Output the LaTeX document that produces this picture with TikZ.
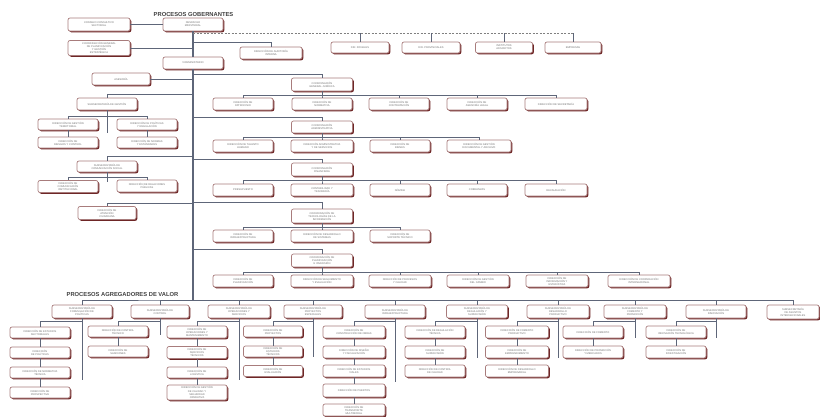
\documentclass[tikz,border=0pt]{standalone}
\usepackage{fontspec}
\setmainfont{Liberation Sans}
\usetikzlibrary{shadows}
\definecolor{ln}{HTML}{5E6679}
\definecolor{bd}{HTML}{A87C7C}
\definecolor{sh}{HTML}{6E2626}
\definecolor{tx}{HTML}{707070}
\tikzset{
 ob/.style={draw=bd, line width=0.7pt, fill=white, rounded corners=2pt, inner sep=0pt, align=center,
   font=\fontsize{2.6}{3.1}\selectfont, text=tx,
   drop shadow={shadow xshift=1.3pt, shadow yshift=-1.3pt, fill=sh, opacity=1}},
 cn/.style={draw=ln, line width=0.9pt},
 tk/.style={draw=ln, line width=1.7pt},
 dl/.style={draw=gray, line width=0.6pt, dash pattern=on 2pt off 1.5pt},
 ttl/.style={font=\fontsize{5.8}{7}\selectfont\bfseries, text=black!75, inner sep=0pt}
}
\newcommand\ob[6]{\node[ob, minimum width=#4pt, minimum height=#5pt] (#1) at (#2,#3) {#6};}
\begin{document}
\begin{tikzpicture}[x=1pt,y=-1pt]
\useasboundingbox (0,0) rectangle (820,416);
% titles
\node[ttl] (tg) at (193.5,14) {PROCESOS GOBERNANTES};
\node[ttl] (ta) at (122.5,294) {PROCESOS AGREGADORES DE VALOR};
% upper nodes
\ob{T}{193}{24.5}{60}{13}{DESPACHO\\MINISTERIAL}
\ob{L1}{99}{24.5}{62}{13}{CONSEJO CONSULTIVO\\SECTORIAL}
\ob{L2}{99}{48}{62}{15}{COORDINACIÓN GENERAL\\DE PLANIFICACIÓN\\Y GESTIÓN\\ESTRATÉGICA}
\ob{A}{271}{53}{62}{12}{DIRECCIÓN DE AUDITORÍA\\INTERNA}
\ob{D1}{360}{47.5}{58}{11}{DIR. ZONALES}
\ob{D2}{431}{47.5}{58}{11}{DIR. PROVINCIALES}
\ob{D3}{504}{47.5}{57}{11}{INSTITUTOS\\ADSCRITOS}
\ob{D4}{573}{47.5}{56}{11}{EMPRESAS}
\ob{V}{193}{63}{60}{12}{VICEMINISTERIO}
\ob{A2}{121}{79}{58}{12}{ASESORÍA}
% branch 1
\ob{C1}{322}{84.5}{61}{13}{COORDINACIÓN\\GENERAL JURÍDICA}
\ob{R11}{243}{104}{60}{12}{DIRECCIÓN DE\\PATROCINIO}
\ob{R12}{322}{104}{60}{12}{DIRECCIÓN DE\\NORMATIVA}
\ob{R13}{399}{104}{60}{12}{DIRECCIÓN DE\\CONTRATACIÓN}
\ob{R14}{477}{104}{60}{12}{DIRECCIÓN DE\\ASESORÍA LEGAL}
\ob{R15}{556}{104}{62}{12}{DIRECCIÓN DE SECRETARÍA}
% branch 2
\ob{C2}{322}{127}{61}{12}{COORDINACIÓN\\ADMINISTRATIVA}
\ob{R21}{243}{146}{60}{12}{DIRECCIÓN DE TALENTO\\HUMANO}
\ob{R22}{322}{146}{62}{12}{DIRECCIÓN ADMINISTRATIVA\\Y DE SERVICIOS}
\ob{R23}{400}{146}{60}{12}{DIRECCIÓN DE\\BIENES}
\ob{R24}{479}{146}{64}{12}{DIRECCIÓN DE GESTIÓN\\DOCUMENTAL Y ARCHIVO}
% branch 3
\ob{C3}{322}{169.5}{61}{13}{COORDINACIÓN\\FINANCIERA}
\ob{R31}{243}{190}{60}{12}{PRESUPUESTO}
\ob{R32}{322}{190}{62}{12}{CONTABILIDAD Y\\TESORERÍA}
\ob{R33}{400}{190}{60}{12}{NÓMINA}
\ob{R34}{477}{190}{60}{12}{COBRANZAS}
\ob{R35}{556}{190}{62}{12}{RECAUDACIÓN}
% branch 4
\ob{C4}{322}{216}{61}{14}{COORDINACIÓN DE\\TECNOLOGÍAS DE LA\\INFORMACIÓN}
\ob{R41}{243}{236}{60}{12}{DIRECCIÓN DE\\INFRAESTRUCTURA}
\ob{R42}{322}{236}{62}{12}{DIRECCIÓN DE DESARROLLO\\DE SISTEMAS}
\ob{R43}{400}{236}{60}{12}{DIRECCIÓN DE\\SOPORTE TÉCNICO}
% branch 5
\ob{C5}{322}{260.5}{61}{13}{COORDINACIÓN DE\\PLANIFICACIÓN\\E INVERSIÓN}
\ob{R51}{243}{281}{60}{12}{DIRECCIÓN DE\\PLANIFICACIÓN}
\ob{R52}{322}{281}{62}{12}{DIRECCIÓN DE SEGUIMIENTO\\Y EVALUACIÓN}
\ob{R53}{400}{281}{62}{12}{DIRECCIÓN DE PROCESOS\\Y CALIDAD}
\ob{R54}{478}{281}{62}{12}{DIRECCIÓN DE GESTIÓN\\DEL CAMBIO}
\ob{R55}{557}{281}{62}{12}{DIRECCIÓN DE\\INFORMACIÓN Y\\ESTADÍSTICA}
\ob{R56}{639}{281}{62}{12}{DIRECCIÓN DE COOPERACIÓN\\INTERNACIONAL}
% left branches
\ob{B1}{107}{104}{60}{12}{SUBSECRETARÍA DE GESTIÓN}
\ob{b11}{68}{124.5}{60}{11}{DIRECCIÓN DE GESTIÓN\\TERRITORIAL}
\ob{b12}{68}{142.5}{60}{11}{DIRECCIÓN DE\\RIESGOS Y CONTROL}
\ob{b13}{147}{124.5}{60}{11}{DIRECCIÓN DE POLÍTICAS\\Y REGULACIÓN}
\ob{b14}{147}{142.5}{60}{11}{DIRECCIÓN DE NORMAS\\Y ESTÁNDARES}
\ob{B2}{107}{166.5}{60}{11}{SUBSECRETARÍA DE\\COMUNICACIÓN SOCIAL}
\ob{b21}{68}{186.5}{60}{12}{DIRECCIÓN DE\\COMUNICACIÓN\\INSTITUCIONAL}
\ob{b22}{147}{186}{60}{12}{DIRECCIÓN DE RELACIONES\\PÚBLICAS}
\ob{B3}{107}{213}{58}{13}{DIRECCIÓN DE\\ATENCIÓN\\CIUDADANA}
% bottom parents
\ob{P1}{82}{311.5}{60}{13}{SUBSECRETARÍA DE\\FORMULACIÓN DE\\POLÍTICAS}
\ob{P2}{160}{311.5}{58}{13}{SUBSECRETARÍA DE\\CONTROL}
\ob{P3}{239}{311.5}{62}{13}{SUBSECRETARÍA DE\\OPERACIONES Y\\SERVICIOS}
\ob{P4}{313}{311.5}{58}{13}{SUBSECRETARÍA DE\\PROYECTOS\\ESPECIALES}
\ob{P5}{395}{311.5}{60}{13}{SUBSECRETARÍA DE\\INFRAESTRUCTURA}
\ob{P6}{477}{311.5}{61}{13}{SUBSECRETARÍA DE\\REGULACIÓN Y\\SUPERVISIÓN}
\ob{P7}{558}{311.5}{62}{13}{SUBSECRETARÍA DE\\DESARROLLO\\PRODUCTIVO}
\ob{P8}{635}{311.5}{62}{13}{SUBSECRETARÍA DE\\FOMENTO Y\\PROMOCIÓN}
\ob{P9}{716}{311.5}{60}{13}{SUBSECRETARÍA DE\\INNOVACIÓN}
\ob{P10}{793}{312}{52}{14}{SUBSECRETARÍA\\DE ASUNTOS\\INTERNACIONALES}
% bottom children
\ob{c11}{40}{332.5}{60}{11}{DIRECCIÓN DE ESTUDIOS\\SECTORIALES}
\ob{c12}{40}{352.5}{60}{11}{DIRECCIÓN\\DE POLÍTICAS}
\ob{c13}{40}{372.5}{60}{11}{DIRECCIÓN DE NORMATIVA\\TÉCNICA}
\ob{c14}{40}{392.5}{60}{11}{DIRECCIÓN DE\\PROSPECTIVA}
\ob{c21}{118}{331.5}{60}{11}{DIRECCIÓN DE CONTROL\\TÉCNICO}
\ob{c22}{118}{351.5}{60}{11}{DIRECCIÓN DE\\SANCIONES}
\ob{c31}{197}{332}{60}{12}{DIRECCIÓN DE\\OPERACIONES Y\\MANTENIMIENTO}
\ob{c32}{197}{352.5}{60}{12}{DIRECCIÓN DE\\SERVICIOS\\TÉCNICOS}
\ob{c33}{197}{372.5}{60}{11}{DIRECCIÓN DE\\LOGÍSTICA}
\ob{c34}{197}{392.5}{60}{15}{DIRECCIÓN DE GESTIÓN\\DE CALIDAD Y\\SEGURIDAD\\OPERATIVA}
\ob{c41}{273}{331.5}{59}{11}{DIRECCIÓN DE\\PROYECTOS}
\ob{c42}{273}{351.5}{59}{11}{DIRECCIÓN DE\\ESTUDIOS\\TÉCNICOS}
\ob{c43}{273}{371}{59}{11}{DIRECCIÓN DE\\EVALUACIÓN}
\ob{c51}{354}{332}{62}{12}{DIRECCIÓN DE\\CONSTRUCCIÓN DE OBRAS}
\ob{c52}{354}{352}{62}{12}{DIRECCIÓN DE DISEÑO\\Y FISCALIZACIÓN}
\ob{c53}{354}{371}{62}{12}{DIRECCIÓN DE ESTUDIOS\\VIALES}
\ob{c54}{354}{390.5}{62}{13}{DIRECCIÓN DE PUERTOS}
\ob{c55}{354}{410}{62}{12}{DIRECCIÓN DE\\TRANSPORTE\\MULTIMODAL}
\ob{c61}{435}{332}{60}{12}{DIRECCIÓN DE REGULACIÓN\\TÉCNICA}
\ob{c62}{435}{352}{60}{12}{DIRECCIÓN DE\\SUPERVISIÓN}
\ob{c63}{435}{371}{60}{12}{DIRECCIÓN DE CONTROL\\DE CALIDAD}
\ob{c71}{517}{332}{63}{12}{DIRECCIÓN DE FOMENTO\\PRODUCTIVO}
\ob{c72}{517}{352}{63}{12}{DIRECCIÓN DE\\EMPRENDIMIENTO}
\ob{c73}{517}{371}{63}{12}{DIRECCIÓN DE DESARROLLO\\EMPRESARIAL}
\ob{c81}{593}{332}{60}{12}{DIRECCIÓN DE FOMENTO}
\ob{c82}{593}{352}{60}{12}{DIRECCIÓN DE PROMOCIÓN\\Y MERCADOS}
\ob{c91}{676}{332}{60}{12}{DIRECCIÓN DE\\INNOVACIÓN TECNOLÓGICA}
\ob{c92}{676}{352}{60}{12}{DIRECCIÓN DE\\INVESTIGACIÓN}
% trunk coordinates
\coordinate (t33) at (193,33);
\coordinate (t42) at (193,42);
\coordinate (t74) at (193,74);
\coordinate (t94) at (193,94);
\coordinate (t117) at (193,117);
\coordinate (t156) at (193,156);
\coordinate (t159) at (193,159);
\coordinate (t202) at (193,202);
\coordinate (t203) at (193,203);
\coordinate (t249) at (193,249);
\coordinate (J) at (193,300);
% trunk
\draw[tk] (T.south) -- (V.north);
\draw[tk] (V.south) -- (J);
% upper connectors
\draw[cn] (L1.east) -- (T.west);
\draw[cn] (L2.east) -- (L2.east -| T.south);
\draw[cn] (t42) -| (A.north);
\draw[dl] (t33) -- (t33 -| D4.north);
\foreach \d in {D1,D2,D3,D4} \draw[cn] (\d.north) -- (\d.north |- t33);
\draw[cn] (A2.east) -- (A2.east -| V.south);
\draw[cn] (t74) -| (C1.north);
\draw[cn] (t117) -| (C2.north);
\draw[cn] (t159) -| (C3.north);
\draw[cn] (t202) -| (C4.north);
\draw[cn] (t249) -| (C5.north);
\foreach \c in {R11,R12,R13,R14,R15} \draw[cn] (C1.south) -- ++(0,4) -| (\c.north);
\foreach \c in {R21,R22,R23,R24} \draw[cn] (C2.south) -- ++(0,4) -| (\c.north);
\foreach \c in {R31,R32,R33,R34,R35} \draw[cn] (C3.south) -- ++(0,4.5) -| (\c.north);
\foreach \c in {R41,R42,R43} \draw[cn] (C4.south) -- ++(0,4) -| (\c.north);
\foreach \c in {R51,R52,R53,R54,R55,R56} \draw[cn] (C5.south) -- ++(0,5) -| (\c.north);
% left
\draw[cn] (t94) -| (B1.north);
\draw[cn] (t156) -| (B2.north);
\draw[cn] (t203) -| (B3.north);
\draw[cn] (B1.south) -- ++(0,23);
\foreach \c in {b11,b13} \draw[cn] (B1.south) -- ++(0,6) -| (\c.north);
\draw[cn] (b11.south) -- (b12.north);
\draw[cn] (b13.south) -- (b14.north);
\draw[cn] (B2.south) -- ++(0,10);
\foreach \c in {b21,b22} \draw[cn] (B2.south) -- ++(0,5) -| (\c.north);
% bottom bus
\draw[cn] (P1.north) |- (J) -| (P10.north);
\foreach \p in {P2,P3,P4,P5,P6,P7,P8,P9} \draw[cn] (J) -| (\p.north);
% bottom chains
\draw[cn] (P1.south) -- ++(0,62);
\draw[cn] (P1.south) -- ++(0,3) -| (c11.north);
\draw[cn] (c11.south) -- (c12.north) (c12.south) -- (c13.north) (c13.south) -- (c14.north);
\draw[cn] (P2.south) -- ++(0,17);
\draw[cn] (P2.south) -- ++(0,3) -| (c21.north);
\draw[cn] (c21.south) -- (c22.north);
\draw[cn] (P3.south) -- ++(0,62);
\draw[cn] (P3.south) -- ++(0,3) -| (c31.north);
\draw[cn] (c31.south) -- (c32.north) (c32.south) -- (c33.north) (c33.south) -- (c34.north);
\draw[cn] (P4.south) -- ++(0,39);
\draw[cn] (P4.south) -- ++(0,3) -| (c41.north);
\draw[cn] (c41.south) -- (c42.north) (c42.south) -- (c43.north);
\draw[cn] (P5.south) -- ++(0,64);
\draw[cn] (P5.south) -- ++(0,3) -| (c51.north);
\draw[cn] (c51.south) -- (c52.north) (c52.south) -- (c53.north) (c53.south) -- (c54.north) (c54.south) -- (c55.north);
\draw[cn] (P6.south) -- ++(0,40);
\draw[cn] (P6.south) -- ++(0,3) -| (c61.north);
\draw[cn] (c61.south) -- (c62.north) (c62.south) -- (c63.north);
\draw[cn] (P7.south) -- ++(0,40);
\draw[cn] (P7.south) -- ++(0,3) -| (c71.north);
\draw[cn] (c71.south) -- (c72.north) (c72.south) -- (c73.north);
\draw[cn] (P8.south) -- ++(0,20);
\draw[cn] (P8.south) -- ++(0,3) -| (c81.north);
\draw[cn] (c81.south) -- (c82.north);
\draw[cn] (P9.south) -- ++(0,20);
\draw[cn] (P9.south) -- ++(0,3) -| (c91.north);
\draw[cn] (c91.south) -- (c92.north);
\end{tikzpicture}
\end{document}
